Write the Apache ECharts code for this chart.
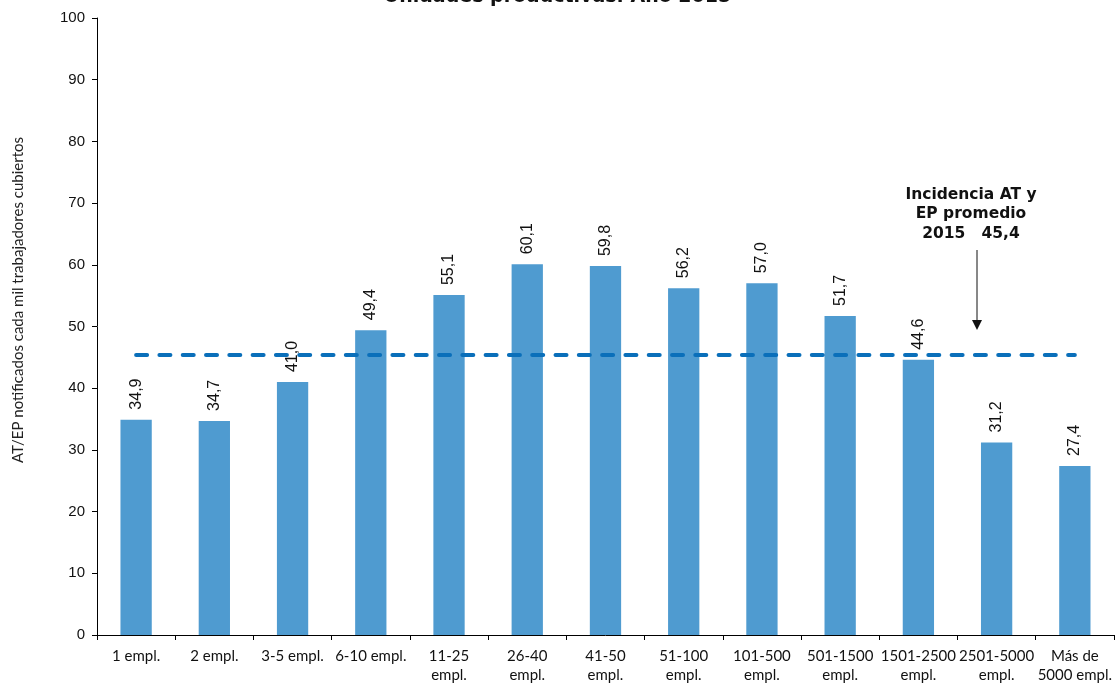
<!DOCTYPE html>
<html><head><meta charset="utf-8">
<script src="https://cdn.jsdelivr.net/npm/echarts@6/dist/echarts.min.js"></script>
<style>html,body{margin:0;padding:0;background:#fff}#c{width:1115px;height:686px}</style>
</head><body><div id="c"></div>
<script>
const categories = ['1 empl.','2 empl.','3-5 empl.','6-10 empl.','11-25\nempl.','26-40\nempl.','41-50\nempl.','51-100\nempl.','101-500\nempl.','501-1500\nempl.','1501-2500\nempl.','2501-5000\nempl.','Más de\n5000 empl.'];
const values = [34.9,34.7,41.0,49.4,55.1,60.1,59.8,56.2,57.0,51.7,44.6,31.2,27.4];
const averageValue = 45.4;
const averageLine = categories.map(() => averageValue);
const yTicks = [0,10,20,30,40,50,60,70,80,90,100];

const chart = echarts.init(document.getElementById('c'));
chart.setOption({
  animation: false,
  grid: {left: 97, right: 0, top: 18, bottom: 51},
  xAxis: {
    type: 'category', data: categories,
    axisLine: {lineStyle: {color: '#000', width: 1}},
    axisTick: {show: true, length: 5, lineStyle: {color: '#000'}},
    axisLabel: {color: '#111', fontFamily: 'Lato', fontSize: 15, lineHeight: 19, margin: 12, interval: 0}
  },
  yAxis: {
    type: 'value', min: 0, max: 100, interval: 10,
    splitLine: {show: false},
    axisLine: {show: true, lineStyle: {color: '#000', width: 1}},
    axisTick: {show: true, length: 5, lineStyle: {color: '#000'}},
    axisLabel: {color: '#111', fontFamily: 'Liberation Sans', fontSize: 15, margin: 12,
      formatter: v => yTicks.includes(v) ? String(v) : ''}
  },
  series: [{
    type: 'bar', data: values, barWidth: '40%',
    itemStyle: {color: '#4F9BD0'},
    label: {show: true, position: 'top', rotate: 90, align: 'left', verticalAlign: 'middle', distance: 10,
      color: '#111', fontFamily: 'Liberation Sans', fontSize: 16,
      formatter: p => p.value.toFixed(1).replace('.', ',')}
  },{
    type: 'line', data: averageLine, symbol: 'none',
    lineStyle: {color: '#0A6FBA', width: 4, type: [11, 12.3], cap: 'round'},
    z: 5
  }],
  graphic: [
    {type: 'text', left: 'center', top: -12, style: {text: 'Unidades productivas. Año 2015', font: 'bold 19px "DejaVu Sans"', fill: '#111'}},
    {type: 'text', x: 18, y: 300, rotation: Math.PI/2, style: {text: 'AT/EP notificados cada mil trabajadores cubiertos', font: '15px Lato', fill: '#222', align: 'center', verticalAlign: 'middle'}},
    {type: 'text', x: 971, y: 185, style: {text: 'Incidencia AT y\nEP promedio\n2015   45,4', font: 'bold 15.5px "DejaVu Sans"', fill: '#111', align: 'center', lineHeight: 19.5}},
    {type: 'line', shape: {x1: 977, y1: 250, x2: 977, y2: 322}, style: {stroke: '#111', lineWidth: 1}},
    {type: 'polygon', shape: {points: [[972, 320], [982, 320], [977, 330]]}, style: {fill: '#111'}}
  ]
});
</script></body></html>
